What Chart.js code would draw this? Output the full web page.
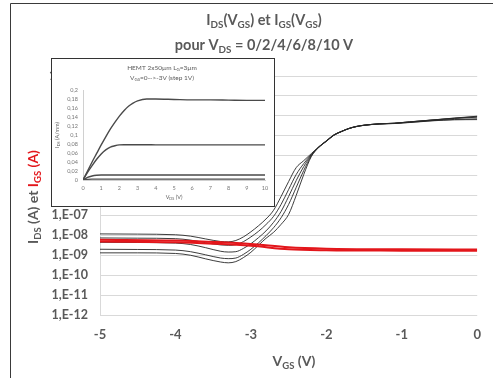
<!DOCTYPE html>
<html lang="fr">
<head>
<meta charset="UTF-8">
<title>IDS(VGS) et IGS(VGS)</title>
<script src="https://cdn.jsdelivr.net/npm/chart.js"></script>
<style>
  body { margin: 0; background: #fff; }
  #wrap { position: relative; width: 493px; height: 378px; }
  #inset { position: absolute; left: 51px; top: 58px; width: 222px; height: 147px;
           border: 1.5px solid #333; background: #fff; }
  canvas { display: block; }
</style>
</head>
<body>
<div id="wrap">
  <canvas id="main" width="493" height="378"></canvas>
  <div id="inset"><canvas id="small" width="222" height="147"></canvas></div>
</div>
<script>
// ---- main chart data: IDS(VGS) for the VDS sweeps, IGS(VGS) ----
const vgs = [-5, -4.5, -4, -3.8, -3.6, -3.4, -3.3, -3.2, -3.1, -3, -2.9, -2.8, -2.7, -2.6, -2.5, -2.4, -2.3, -2.2,
             -2.1, -2, -1.9, -1.8, -1.7, -1.6, -1.5, -1.3, -1.1, -0.9, -0.6, -0.3, 0];
const idsA = [1.18e-8, 1.15e-8, 1.07e-8, 9.1e-9, 6.6e-9, 4.9e-9, 4.7e-9, 5.5e-9, 8.3e-9, 1.5e-8, 3.0e-8, 6.6e-8, 1.8e-7, 8.9e-7, 5.0e-6, 2.5e-5, 5.6e-5, 1.26e-4,
              2.8e-4, 5.6e-4, 1.12e-3, 1.66e-3, 2.34e-3, 2.95e-3, 3.39e-3, 3.98e-3, 4.27e-3, 5.0e-3, 6.17e-3, 7.76e-3, 9.55e-3];
const idsB = [7.4e-9, 7.2e-9, 6.8e-9, 5.75e-9, 4.27e-9, 3.3e-9, 3.16e-9, 3.39e-9, 4.79e-9, 8.3e-9, 1.58e-8, 3.47e-8, 8.9e-8, 3.55e-7, 2.0e-6, 1.12e-5, 3.98e-5, 1.12e-4,
              2.75e-4, 5.5e-4, 1.1e-3, 1.65e-3, 2.33e-3, 2.94e-3, 3.38e-3, 3.96e-3, 4.25e-3, 4.95e-3, 6.15e-3, 7.59e-3, 9.12e-3];
const idsC = [4.47e-9, 4.37e-9, 4.07e-9, 3.47e-9, 2.4e-9, 1.58e-9, 1.45e-9, 1.51e-9, 2.19e-9, 3.8e-9, 7.59e-9, 1.66e-8, 4.47e-8, 1.58e-7, 8.9e-7, 5.6e-6, 2.82e-5, 1.05e-4,
              2.7e-4, 5.4e-4, 1.08e-3, 1.64e-3, 2.32e-3, 2.93e-3, 3.37e-3, 3.94e-3, 4.22e-3, 4.9e-3, 6.1e-3, 7.41e-3, 8.51e-3];
const idsD = [2.0e-9, 1.95e-9, 1.82e-9, 1.51e-9, 1.05e-9, 7.24e-10, 6.76e-10, 7.24e-10, 1.1e-9, 2.0e-9, 4.17e-9, 9.55e-9, 2.4e-8, 7.59e-8, 3.55e-7, 2.51e-6, 1.78e-5, 9.55e-5,
              2.65e-4, 5.3e-4, 1.06e-3, 1.62e-3, 2.3e-3, 2.9e-3, 3.35e-3, 3.9e-3, 4.15e-3, 4.7e-3, 5.75e-3, 6.61e-3, 7.08e-3];
const idsE = [1.32e-9, 1.32e-9, 1.23e-9, 1.0e-9, 6.6e-10, 4.57e-10, 4.17e-10, 4.79e-10, 7.59e-10, 1.41e-9, 3.16e-9, 7.08e-9, 1.41e-8, 3.55e-8, 1.12e-7, 1.0e-6, 1.12e-5, 8.9e-5,
              2.6e-4, 5.2e-4, 1.05e-3, 1.6e-3, 2.28e-3, 2.88e-3, 3.33e-3, 3.88e-3, 4.1e-3, 4.6e-3, 5.6e-3, 6.31e-3, 6.46e-3];
const igsV = [-5, -4, -3.5, -3, -2.5, -2, -1, 0];
const igsHigh = [6.03e-9, 5.5e-9, 4.68e-9, 3.72e-9, 2.51e-9, 2.14e-9, 2.0e-9, 1.95e-9];
const igsLow = [4.9e-9, 4.47e-9, 3.8e-9, 3.0e-9, 2.0e-9, 1.78e-9, 1.7e-9, 1.66e-9];
const yTicks = [1, 1e-1, 1e-2, 1e-3, 1e-4, 1e-5, 1e-6, 1e-7, 1e-8, 1e-9, 1e-10, 1e-11, 1e-12];
const xTicks = [-5, -4, -3, -2, -1, 0];

// ---- inset data: output characteristics, VGS = 0 -> -3 V ----
const vds = [0, 0.25, 0.5, 0.75, 1, 1.25, 1.5, 1.75, 2, 2.25, 2.5, 2.75, 3, 3.5, 4, 5, 6, 7, 8, 9, 10];
const idVg0 = [0, 0.02, 0.04, 0.059, 0.078, 0.096, 0.113, 0.128, 0.142, 0.154, 0.164, 0.171, 0.176, 0.18, 0.18, 0.179, 0.178, 0.178, 0.1775, 0.177, 0.177];
const idVg1 = [0, 0.017, 0.032, 0.046, 0.058, 0.067, 0.073, 0.076, 0.078, 0.0785, 0.0785, 0.0785, 0.0785, 0.0785, 0.078, 0.078, 0.078, 0.078, 0.078, 0.078, 0.078];
const idVg2 = [0, 0.006, 0.009, 0.0105, 0.011, 0.011, 0.011, 0.011, 0.011, 0.011, 0.011, 0.011, 0.011, 0.011, 0.011, 0.011, 0.011, 0.011, 0.011, 0.011, 0.011];
const idVg3 = [0, 0.0015, 0.002, 0.002, 0.002, 0.002, 0.002, 0.002, 0.002, 0.002, 0.002, 0.002, 0.002, 0.002, 0.002, 0.002, 0.002, 0.002, 0.002, 0.002, 0.002];
const smallYTicks = [0, 0.02, 0.04, 0.06, 0.08, 0.1, 0.12, 0.14, 0.16, 0.18, 0.2];
const smallXTicks = [0, 1, 2, 3, 4, 5, 6, 7, 8, 9, 10];

const GRAY = '#595959';
const RED = '#e3161b';
const FONT = 'Lato, "Open Sans", sans-serif';

// draws text pieces, some as subscripts: parts = [[text, isSub, color], ...]
function rich(ctx, parts, x, y, size, weight) {
  let total = 0;
  const widths = parts.map(p => {
    ctx.font = weight + ' ' + (p[1] ? size * 0.68 : size) + 'px ' + FONT;
    const w = ctx.measureText(p[0]).width;
    total += w;
    return w;
  });
  let cx = x - total / 2;
  ctx.textAlign = 'left';
  ctx.textBaseline = 'alphabetic';
  parts.forEach((p, i) => {
    ctx.font = weight + ' ' + (p[1] ? size * 0.68 : size) + 'px ' + FONT;
    ctx.fillStyle = p[2] || GRAY;
    ctx.fillText(p[0], cx, y + (p[1] ? size * 0.22 : 0));
    cx += widths[i];
  });
}

const pts = (xs, ys) => xs.map((v, i) => ({ x: v, y: ys[i] }));
const blackLine = d => ({ data: pts(vgs, d), borderColor: 'rgba(40,40,40,0.9)', borderWidth: 1, pointRadius: 0,
                          cubicInterpolationMode: 'monotone', order: 1 });
const redLine = d => ({ data: pts(igsV, d), borderColor: RED, borderWidth: 2, pointRadius: 0,
                        cubicInterpolationMode: 'monotone', order: 0 });

const mainText = {
  id: 'mainText',
  beforeDraw(chart) {
    const ctx = chart.ctx;
    ctx.save();
    ctx.fillStyle = '#fff';
    ctx.fillRect(0, 0, chart.width, chart.height);
    ctx.strokeStyle = '#3a3a3a';
    ctx.lineWidth = 1;
    ctx.beginPath();
    ctx.moveTo(10.5, 378);
    ctx.lineTo(10.5, 3.5);
    ctx.lineTo(493, 3.5);
    ctx.stroke();
    ctx.restore();
  },
  afterDraw(chart) {
    const ctx = chart.ctx;
    ctx.save();
    rich(ctx, [['I'], ['DS', 1], ['(V'], ['GS', 1], [') et I'], ['GS', 1], ['(V'], ['GS', 1], [')']], 264, 25, 14.5, 'bold');
    rich(ctx, [['pour V'], ['DS', 1], [' = 0/2/4/6/8/10 V']], 264, 50, 14.5, 'bold');
    rich(ctx, [['V'], ['GS', 1], [' (V)']], 294, 366, 14, 'bold');
    ctx.translate(38, 197);
    ctx.rotate(-Math.PI / 2);
    rich(ctx, [['I'], ['DS', 1], [' (A) et '], ['I', 0, RED], ['GS', 1, RED], [' (A)', 0, RED]], 0, 0, 14, 'bold');
    ctx.restore();
  }
};

new Chart(document.getElementById('main'), {
  type: 'line',
  data: {
    datasets: [redLine(igsHigh), redLine(igsLow),
               blackLine(idsA), blackLine(idsB), blackLine(idsC), blackLine(idsD), blackLine(idsE)]
  },
  options: {
    responsive: false,
    animation: false,
    layout: { padding: { left: 10, right: 5, top: 76, bottom: 0 } },
    plugins: { legend: { display: false }, tooltip: { enabled: false }, title: { display: false } },
    scales: {
      x: {
        type: 'linear', min: -5, max: 0,
        afterBuildTicks: s => { s.ticks = xTicks.map(v => ({ value: v })); },
        afterFit: s => { s.height = 63; },
        grid: { display: false, drawTicks: false },
        border: { display: false },
        ticks: { color: GRAY, padding: 12, font: { family: FONT, size: 13, weight: 'bold' } }
      },
      y: {
        type: 'logarithmic', min: 1e-12, max: 1,
        afterBuildTicks: s => { s.ticks = yTicks.map(v => ({ value: v })); },
        afterFit: s => { s.width = 90; },
        grid: { color: '#d9d9d9', drawTicks: false },
        border: { display: true, color: '#d9d9d9' },
        ticks: {
          autoSkip: false, color: GRAY, padding: 12, font: { family: FONT, size: 12.5, weight: 'bold' },
          callback: v => {
            const e = Math.round(Math.log10(v));
            return '1,E' + (e < 0 ? '-' : '+') + String(Math.abs(e)).padStart(2, '0');
          }
        }
      }
    }
  },
  plugins: [mainText]
});

// ---- inset chart ----
const smallText = {
  id: 'smallText',
  afterDraw(chart) {
    const ctx = chart.ctx;
    ctx.save();
    rich(ctx, [['HEMT 2x50µm L'], ['G', 1], ['=3µm']], 110, 11, 6.5, 'normal');
    rich(ctx, [['V'], ['GS', 1], ['=0-->-3V (step 1V)']], 110, 21, 6.5, 'normal');
    rich(ctx, [['V'], ['DS', 1], [' (V)']], 122, 140, 5.5, 'normal');
    ctx.translate(6.5, 76);
    ctx.rotate(-Math.PI / 2);
    rich(ctx, [['I'], ['DS', 1], [' (A/mm)']], 0, 0, 5.5, 'normal');
    ctx.restore();
  }
};
const smallLine = d => ({ data: pts(vds, d), borderColor: '#4a4a4a', borderWidth: 1.4, pointRadius: 0,
                          cubicInterpolationMode: 'monotone' });

new Chart(document.getElementById('small'), {
  type: 'line',
  data: { datasets: [smallLine(idVg0), smallLine(idVg1), smallLine(idVg2), smallLine(idVg3)] },
  options: {
    responsive: false,
    animation: false,
    layout: { padding: { left: 0, right: 9, top: 31, bottom: 0 } },
    plugins: { legend: { display: false }, tooltip: { enabled: false } },
    scales: {
      x: {
        type: 'linear', min: 0, max: 10,
        afterBuildTicks: s => { s.ticks = smallXTicks.map(v => ({ value: v })); },
        afterFit: s => { s.height = 26; },
        grid: { display: false, drawTicks: false },
        border: { display: true, color: '#d0d0d0' },
        ticks: { color: '#777', padding: 5, font: { family: FONT, size: 5.5 } }
      },
      y: {
        type: 'linear', min: 0, max: 0.2,
        afterBuildTicks: s => { s.ticks = smallYTicks.map(v => ({ value: v })); },
        afterFit: s => { s.width = 31; },
        grid: { display: false, drawTicks: false },
        border: { display: true, color: '#d0d0d0' },
        ticks: {
          autoSkip: false, color: '#777', padding: 5, font: { family: FONT, size: 5.5 },
          callback: v => String(Math.round(v * 100) / 100).replace('.', ',')
        }
      }
    }
  },
  plugins: [smallText]
});
</script>
</body>
</html>
